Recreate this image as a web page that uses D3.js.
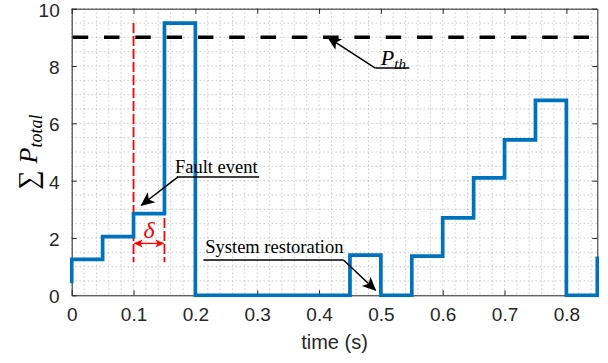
<!DOCTYPE html>
<html>
<head>
<meta charset="utf-8">
<script src="https://cdn.jsdelivr.net/npm/d3@7"></script>
<style>
  body { margin: 0; background: #fff; }
  svg { display: block; }
</style>
</head>
<body>
<div id="chart"></div>
<script>
// step series (value held from each time until the next one)
const startValue = 0.42;
const stepTimes = [0, 0.05, 0.10, 0.15, 0.20, 0.45, 0.50, 0.55, 0.60, 0.65, 0.70, 0.75, 0.80, 0.85];
const stepValues = [1.25, 2.05, 2.85, 9.5, 0, 1.4, 0, 1.37, 2.7, 4.1, 5.42, 6.8, 0, 1.35];
const thresholdValue = 9;
const faultTimes = [0.10, 0.15];
const faultRange = [1.15, 9.5];
const xTicks = [0, 0.1, 0.2, 0.3, 0.4, 0.5, 0.6, 0.7, 0.8];
const yTicks = [0, 2, 4, 6, 8, 10];

const width = 608, height = 363;
const margin = {top: 8.7, right: 10.7, bottom: 67.7, left: 71.7};
const iw = width - margin.left - margin.right;
const ih = height - margin.top - margin.bottom;

const x = d3.scaleLinear().domain([0, 0.85]).range([0, iw]);
const y = d3.scaleLinear().domain([0, 10]).range([ih, 0]);

const svg = d3.select('#chart').append('svg')
  .attr('width', width)
  .attr('height', height);

const defs = svg.append('defs');
defs.append('clipPath').attr('id', 'plot-clip')
  .append('rect').attr('x', -2).attr('y', -2).attr('width', iw + 4).attr('height', ih + 4);

function marker(id, color, size) {
  defs.append('marker')
    .attr('id', id)
    .attr('viewBox', '0 -5 10 10')
    .attr('refX', 9).attr('refY', 0)
    .attr('markerWidth', size).attr('markerHeight', size)
    .attr('markerUnits', 'userSpaceOnUse')
    .attr('orient', 'auto-start-reverse')
    .append('path')
    .attr('d', 'M0,-4.5L10,0L0,4.5L2.5,0Z')
    .attr('fill', color);
}
marker('arrow-black', '#000', 14);
marker('arrow-red', '#f00', 9);

const g = svg.append('g').attr('transform', `translate(${margin.left},${margin.top})`);

// dotted grid
const gridColor = '#a0a0a0';
g.append('g').selectAll('line')
  .data(d3.range(0, 0.85 + 1e-9, 0.02))
  .join('line')
  .attr('x1', d => x(d)).attr('x2', d => x(d))
  .attr('y1', 0).attr('y2', ih)
  .attr('stroke', gridColor).attr('stroke-width', 1)
  .attr('stroke-dasharray', '1,3').attr('opacity', 0.8);
g.append('g').selectAll('line')
  .data(d3.range(0, 10 + 1e-9, 0.5))
  .join('line')
  .attr('x1', 0).attr('x2', iw)
  .attr('y1', d => y(d)).attr('y2', d => y(d))
  .attr('stroke', gridColor).attr('stroke-width', 1)
  .attr('stroke-dasharray', '1,3').attr('opacity', 0.8);

// axes (box with inward ticks)
const axisColor = '#262626';
const fontSans = 'Liberation Sans, Arial, Helvetica, sans-serif';
const fontSerif = 'Liberation Serif, Times New Roman, serif';

const xAxis = g.append('g').attr('transform', `translate(0,${ih})`)
  .call(d3.axisBottom(x).tickValues(xTicks).tickSizeInner(-5).tickSizeOuter(0).tickPadding(12)
    .tickFormat(d => d === 0 ? '0' : d3.format('.1f')(d)));
const xTop = g.append('g')
  .call(d3.axisTop(x).tickValues(xTicks).tickSizeInner(-5).tickSizeOuter(0).tickFormat(''));
const yAxis = g.append('g')
  .call(d3.axisLeft(y).tickValues(yTicks).tickSizeInner(-5).tickSizeOuter(0).tickPadding(12));
const yRight = g.append('g').attr('transform', `translate(${iw},0)`)
  .call(d3.axisRight(y).tickValues(yTicks).tickSizeInner(-5).tickSizeOuter(0).tickFormat(''));

[xAxis, xTop, yAxis, yRight].forEach(a => {
  a.select('.domain').attr('stroke', axisColor).attr('stroke-width', 1);
  a.selectAll('.tick line').attr('stroke', axisColor);
  a.selectAll('.tick text').attr('fill', axisColor).attr('font-family', fontSans).attr('font-size', 19);
});
xAxis.selectAll('.tick text').attr('dy', '0.71em');
yAxis.selectAll('.tick text').attr('dy', '0.4em');

// threshold line
g.append('line')
  .attr('x1', 0).attr('x2', iw)
  .attr('y1', y(thresholdValue)).attr('y2', y(thresholdValue))
  .attr('stroke', '#000').attr('stroke-width', 3.5)
  .attr('stroke-dasharray', '15.5,15.8')
  .attr('stroke-dashoffset', -1);

// fault window markers
g.append('g').selectAll('line')
  .data(faultTimes)
  .join('line')
  .attr('x1', d => x(d)).attr('x2', d => x(d))
  .attr('y1', y(faultRange[1])).attr('y2', y(faultRange[0]))
  .attr('stroke', '#f00').attr('stroke-width', 1.8)
  .attr('stroke-dasharray', '10,3');

// the step series
const pts = [[0, startValue]].concat(stepTimes.map((t, i) => [t, stepValues[i]]));
g.append('path')
  .datum(pts)
  .attr('clip-path', 'url(#plot-clip)')
  .attr('fill', 'none')
  .attr('stroke', '#0072BD')
  .attr('stroke-width', 3.7)
  .attr('stroke-linejoin', 'miter')
  .attr('d', d3.line().x(d => x(d[0])).y(d => y(d[1])).curve(d3.curveStepAfter));

// delta arrow
g.append('line')
  .attr('x1', x(faultTimes[0]) + 1).attr('x2', x(faultTimes[1]) - 1)
  .attr('y1', y(1.81)).attr('y2', y(1.81))
  .attr('stroke', '#f00').attr('stroke-width', 1.3)
  .attr('marker-start', 'url(#arrow-red)')
  .attr('marker-end', 'url(#arrow-red)');
g.append('text')
  .attr('x', x((faultTimes[0] + faultTimes[1]) / 2))
  .attr('y', y(2.0))
  .attr('text-anchor', 'middle')
  .attr('font-family', fontSerif).attr('font-style', 'italic')
  .attr('font-size', 24).attr('fill', '#f00')
  .text('δ');

// annotations
function callout(label, textX, textY, lineX0, lineX1, lineY, tip, fontSize, from) {
  const t = g.append('text')
    .attr('x', x(textX)).attr('y', y(textY))
    .attr('font-family', fontSerif).attr('font-size', fontSize).attr('fill', '#000');
  label(t);
  g.append('line')
    .attr('x1', x(lineX0)).attr('x2', x(lineX1))
    .attr('y1', y(lineY)).attr('y2', y(lineY))
    .attr('stroke', '#000').attr('stroke-width', 1.5);
  g.append('line')
    .attr('x1', x(from)).attr('y1', y(lineY))
    .attr('x2', x(tip[0])).attr('y2', y(tip[1]))
    .attr('stroke', '#000').attr('stroke-width', 1.5)
    .attr('marker-end', 'url(#arrow-black)');
}

callout(t => t.text('Fault event'), 0.167, 4.28, 0.170, 0.303, 4.13, [0.113, 3.15], 18.5, 0.172);
callout(t => {
  t.append('tspan').attr('font-style', 'italic').attr('font-size', 22).text('P');
  t.append('tspan').attr('font-style', 'italic').attr('font-size', 15).attr('dy', 4).text('th');
}, 0.500, 8.04, 0.491, 0.546, 7.93, [0.415, 8.99], 17, 0.491);
callout(t => t.text('System restoration'), 0.216, 1.47, 0.213, 0.4395, 1.23, [0.491, 0.185], 18.5, 0.4395);

// axis titles
svg.append('text')
  .attr('x', margin.left + iw / 2)
  .attr('y', 349)
  .attr('text-anchor', 'middle')
  .attr('font-family', fontSans).attr('font-size', 20).attr('fill', axisColor)
  .text('time (s)');

const yl = svg.append('text')
  .attr('transform', `translate(37,${margin.top + ih / 2}) rotate(-90)`)
  .attr('text-anchor', 'middle')
  .attr('font-family', fontSerif).attr('fill', '#000');
yl.append('tspan').attr('font-size', 27).text('∑ ');
yl.append('tspan').attr('font-style', 'italic').attr('font-size', 26).text('P');
yl.append('tspan').attr('font-style', 'italic').attr('font-size', 18).attr('dy', 5).text('total');
</script>
</body>
</html>
